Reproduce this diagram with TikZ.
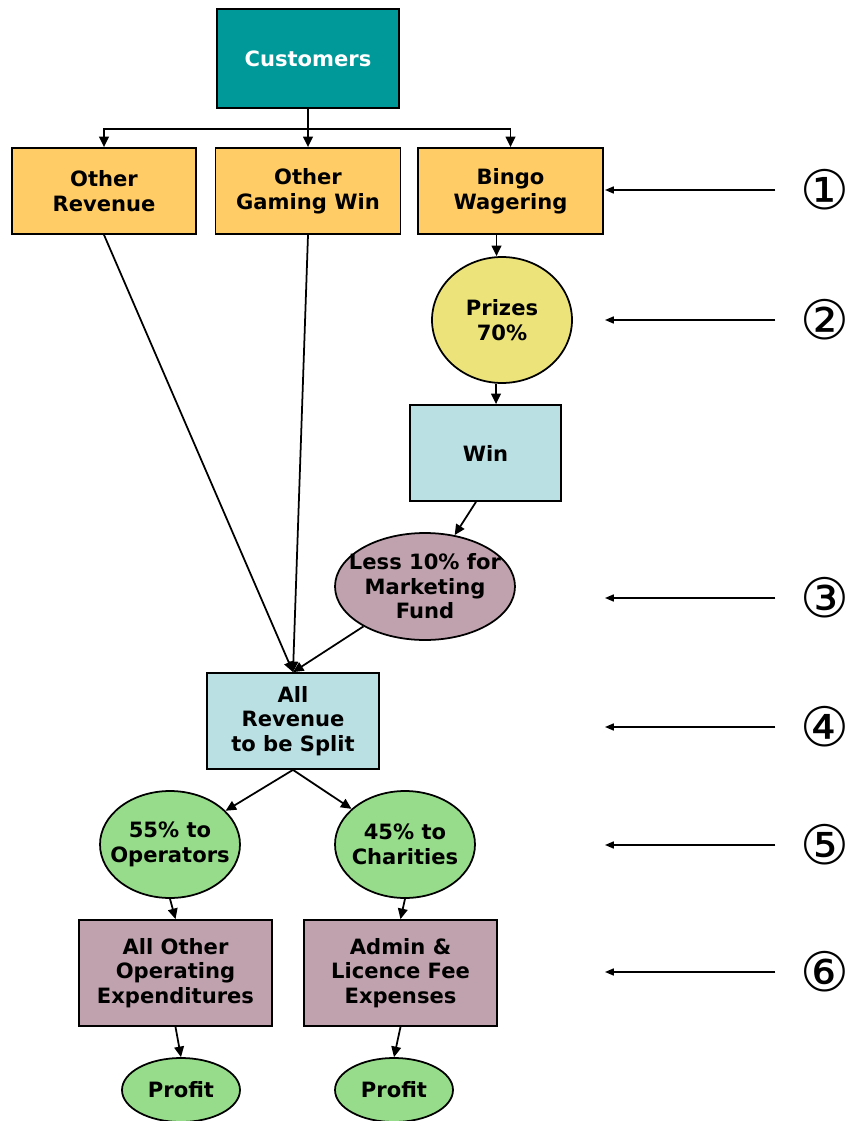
\documentclass[tikz,border=0pt]{standalone}
\usepackage{fontspec}
\setmainfont{DejaVu Sans}
\newfontfamily\lblfont{DejaVu Sans}
\usetikzlibrary{arrows.meta,shapes.geometric}
\definecolor{custteal}{HTML}{009999}
\definecolor{wager}{HTML}{FFCC66}
\definecolor{prize}{HTML}{ECE47A}
\definecolor{split}{HTML}{BBE0E3}
\definecolor{mauve}{HTML}{C0A2AE}
\definecolor{share}{HTML}{96DC8A}
\tikzset{
  txt/.style={align=center,font=\lblfont\bfseries\fontsize{12}{14}\selectfont},
  box/.style={txt,draw,line width=1pt,inner sep=0pt},
  oval/.style={ellipse,draw,line width=1pt,inner sep=0pt},
  arr/.style={-{Triangle[length=6pt,width=5.5pt]},line width=1pt},
  side/.style={-{Triangle[length=5pt,width=4pt]},line width=0.8pt},
  num/.style={inner sep=0pt,font=\fontsize{31}{31}\selectfont}
}
\begin{document}
\begin{tikzpicture}[x=0.02cm,y=-0.02cm]
\useasboundingbox (0,0) rectangle (848,1121);
% top row
\node[box,fill=custteal,text=white,minimum width=3.64cm,minimum height=1.98cm] (cust) at (308,58.5) {Customers};
\node[box,fill=wager,minimum width=3.68cm,minimum height=1.72cm] (orev) at (104,191) {Other\\Revenue};
\node[box,fill=wager,minimum width=3.7cm,minimum height=1.72cm] (ogw) at (308,191) {Other\\Gaming Win};
\node[box,fill=wager,minimum width=3.7cm,minimum height=1.72cm] (bingo) at (510.5,191) {Bingo\\Wagering};
% bingo branch
\node[oval,fill=prize,minimum width=2.8cm,minimum height=2.52cm,label={[txt]center:{Prizes\\70\%}}] (prizes) at (502,320) {};
\node[box,fill=split,minimum width=3.02cm,minimum height=1.92cm] (win) at (485.5,453) {Win};
\node[oval,fill=mauve,minimum width=3.6cm,minimum height=2.14cm,label={[txt]center:{Less 10\% for\\Marketing\\Fund}}] (less) at (425,586.5) {};
% split
\node[box,fill=split,minimum width=3.44cm,minimum height=1.92cm] (all) at (293,721) {All\\Revenue\\to be Split};
\node[oval,fill=share,minimum width=2.8cm,minimum height=2.14cm,label={[txt]center:{55\% to\\Operators}}] (oper) at (170,844.5) {};
\node[oval,fill=share,minimum width=2.8cm,minimum height=2.14cm,label={[txt]center:{45\% to\\Charities}}] (char) at (405,844.5) {};
\node[box,fill=mauve,minimum width=3.86cm,minimum height=2.12cm] (opex) at (175.5,973) {All Other\\Operating\\Expenditures};
\node[box,fill=mauve,minimum width=3.86cm,minimum height=2.12cm] (admin) at (400.5,973) {Admin \&\\Licence Fee\\Expenses};
\node[oval,fill=share,minimum width=2.36cm,minimum height=1.28cm,label={[txt]center:Profit}] (prof1) at (181,1090) {};
\node[oval,fill=share,minimum width=2.36cm,minimum height=1.28cm,label={[txt]center:Profit}] (prof2) at (394,1090) {};
% connectors
\draw[arr] (cust.south) -- ++(0,20) -| (orev.north);
\draw[arr] (cust.south) -- (ogw.north);
\draw[arr] (cust.south) -- ++(0,20) -| (bingo.north);
\draw[arr] ([xshift=-0.28cm]bingo.south) -- ([xshift=-0.28cm]bingo.south |- prizes.north);
\draw[arr] ([xshift=-0.12cm]prizes.south) -- ([xshift=-0.12cm]prizes.south |- win.north);
\draw[arr] ([xshift=-0.19cm]win.south) -- (less.60);
\draw[arr] (orev.south) -- (all.north);
\draw[arr] (ogw.south) -- (all.north);
\draw[arr] (less) -- (all.north);
\draw[arr] (all.south) -- (oper);
\draw[arr] (all.south) -- (char);
\draw[arr] (oper.south) -- (opex.north);
\draw[arr] (char.south) -- (admin.north);
\draw[arr] (opex.south) -- (prof1.north);
\draw[arr] (admin.south) -- (prof2.north);
% step markers
\foreach \i/\y/\s in {1/190/①,2/320/②,3/598/③,4/727/④,5/845/⑤,6/972/⑥} {
  \node[num] (n\i) at (825,\y) {\s};
  \coordinate (t\i) at (605,\y);
  \draw[side] ([xshift=-0.5cm]n\i.west) -- (t\i);
}
\end{tikzpicture}
\end{document}
